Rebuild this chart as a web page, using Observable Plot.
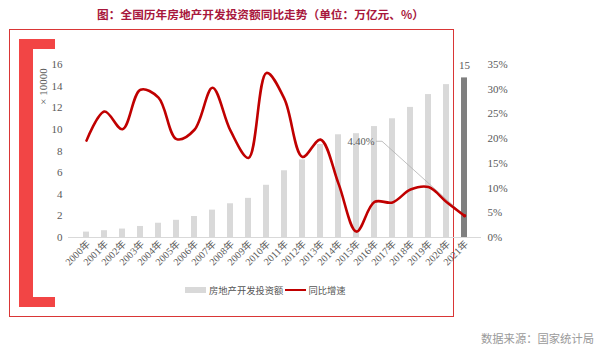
<!DOCTYPE html>
<html><head><meta charset="utf-8">
<script src="https://cdn.jsdelivr.net/npm/d3@7"></script>
<script src="https://cdn.jsdelivr.net/npm/@observablehq/plot@0.6"></script>
<style>
body{margin:0;background:#fff;}
#wrap{position:relative;width:600px;height:351px;overflow:hidden;}
#title{position:absolute;left:0;width:521px;top:5px;text-align:center;font-family:"Noto Sans CJK SC",sans-serif;font-weight:bold;font-size:11.7px;color:#a8173c;line-height:17px;white-space:nowrap;}
#box{position:absolute;left:9px;top:29px;width:443px;height:286px;border:1.3px solid #d93636;}
.br{position:absolute;background:#f24545;}
#chart{position:absolute;left:0;top:0;}
#legend{position:absolute;top:283px;left:185px;font-family:"Liberation Serif","Noto Sans CJK SC",serif;font-size:9.3px;color:#555;display:flex;align-items:center;white-space:nowrap;}
#legend .sw1{display:inline-block;width:21px;height:6px;background:#d9d9d9;margin-right:3px;}
#legend .sw2{display:inline-block;width:21px;height:2.5px;background:#c00000;margin:0 2px 0 2px;}
#source{position:absolute;left:481px;top:330px;font-family:"Noto Sans CJK SC",sans-serif;font-size:11.3px;color:#9a9a9a;white-space:nowrap;}
</style></head><body>
<div id="wrap">
  <div id="title">图：全国历年房地产开发投资额同比走势（单位：万亿元、%）</div>
  <div id="box"></div>
  <div class="br" style="left:19px;top:39px;width:14px;height:268px;"></div>
  <div class="br" style="left:19px;top:39px;width:36px;height:10px;"></div>
  <div class="br" style="left:19px;top:297px;width:36px;height:10px;"></div>
  <div id="chart"></div>
  <div id="legend"><span class="sw1"></span><span>房地产开发投资额</span><span class="sw2"></span><span>同比增速</span></div>
  <div id="source">数据来源：国家统计局</div>
</div>
<script>
const years = ["2000年","2001年","2002年","2003年","2004年","2005年","2006年","2007年","2008年","2009年","2010年","2011年","2012年","2013年","2014年","2015年","2016年","2017年","2018年","2019年","2020年","2021年"];
const invest = [0.50,0.63,0.78,1.02,1.32,1.59,1.94,2.53,3.12,3.62,4.83,6.17,7.18,8.60,9.50,9.60,10.26,10.98,12.03,13.22,14.14,14.76];
const growth = [19.6,25.5,21.9,29.9,28.3,19.9,21.8,30.3,21.6,16.1,33.3,28.0,16.3,19.8,10.9,1.2,7.2,7.1,9.7,10.2,7.2,4.4];
const leftTicks = [0,2,4,6,8,10,12,14,16];
const pctTicks = [0,5,10,15,20,25,30,35];
const leftMax = 16, pctMax = 35;
const toLeft = p => p * leftMax / pctMax;

const data = years.map((y, i) => ({year: y, invest: invest[i], growth: growth[i], gy: toLeft(growth[i])}));
const last = data[data.length - 1];

const leader = (index, scales) => {
  const x = scales.x(last.year) + scales.x.bandwidth() / 2;
  const y = scales.y(last.gy);
  const p = d3.create("svg:path")
    .attr("d", `M${x},${y}L${x - 82},${y - 74}L${x - 88},${y - 74}`)
    .attr("fill", "none").attr("stroke", "#b0b0b0").attr("stroke-width", 0.8);
  return p.node();
};

const chart = Plot.plot({
  width: 600, height: 351,
  marginLeft: 68, marginRight: 119, marginTop: 64, marginBottom: 114,
  style: {background: "none", color: "#595959", fontFamily: "'Liberation Serif','Noto Sans CJK SC',serif", fontSize: "11px"},
  x: {domain: years, padding: 0.68},
  y: {domain: [0, leftMax]},
  marks: [
    Plot.barY(data.slice(0, -1), {x: "year", y: "invest", fill: "#d9d9d9"}),
    Plot.barY([last], {x: "year", y: "invest", fill: "#7f7f7f"}),
    Plot.ruleY([0], {stroke: "#d9d9d9", strokeWidth: 1}),
    Plot.text([last], {x: "year", y: "invest", text: d => d3.format(".0f")(d.invest), dy: -12, fill: "#595959", fontSize: 11}),
    leader,
    Plot.line(data, {x: "year", y: "gy", stroke: "#c00000", strokeWidth: 2.6, curve: "catmull-rom"}),
    Plot.dot([last], {x: "year", y: "gy", r: 1.8, fill: "#c00000"}),
    Plot.text([last], {x: "year", y: "gy", text: d => d3.format(".2f")(d.growth) + "%", textAnchor: "end", dx: -90, dy: -74, fill: "#595959", fontSize: 10.5}),
    Plot.axisY({anchor: "left", ticks: leftTicks, tickSize: 0, tickPadding: 6, label: null, fontSize: 11}),
    Plot.axisY({anchor: "right", ticks: pctTicks.map(toLeft), tickFormat: d => Math.round(d * pctMax / leftMax) + "%", tickSize: 0, tickPadding: 6, label: null, fontSize: 11}),
    Plot.axisX({tickRotate: -45, tickSize: 0, tickPadding: 5, dx: 2, label: null, fontSize: 10}),
    Plot.text(["× 10000"], {frameAnchor: "top-left", rotate: -90, dx: -29, dy: 22, textAnchor: "middle", fill: "#595959", fontSize: 11})
  ]
});
document.getElementById("chart").appendChild(chart);
</script>
</body></html>
